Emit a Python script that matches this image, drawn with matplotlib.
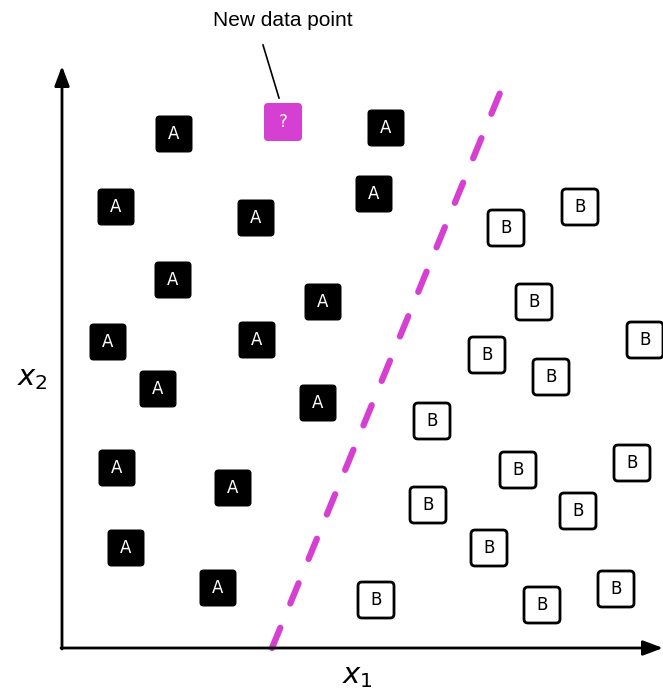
import matplotlib
matplotlib.use("Agg")
import matplotlib.pyplot as plt
from matplotlib.patches import FancyBboxPatch

# Chart-space coordinates (origin at axes crossing, units ~ pixels)
a_x = [112, 324, 54, 194, 312, 111, 261, 46, 195, 96, 256, 55, 171, 64, 156]
a_y = [514, 520, 441, 430, 454, 368, 346, 306, 308, 259, 245, 180, 160, 100, 60]
b_x = [444, 518, 472, 425, 489, 583, 370, 456, 570, 366, 516, 427, 314, 480, 554]
b_y = [420, 441, 346, 293, 271, 308, 227, 178, 185, 143, 137, 100, 48, 43, 59]
new_x = [221]
new_y = [526]
boundary_x = [210, 440]
boundary_y = [0, 560]

magenta = "#d640d2"

fig = plt.figure(figsize=(6.63, 6.92), dpi=100)
ax = fig.add_axes([0, 0, 1, 1])
ax.set_xlim(-62, 601)
ax.set_ylim(-44, 648)
ax.set_aspect("auto")
ax.axis("off")

def box(x, y, face, edge, label, tcolor, size=36, lw=0):
    p = FancyBboxPatch((x - size / 2, y - size / 2), size, size,
                       boxstyle="round,pad=0,rounding_size=4",
                       facecolor=face, edgecolor=edge, linewidth=lw, zorder=3)
    ax.add_patch(p)
    ax.text(x, y, label, color=tcolor, ha="center", va="center",
            fontsize=12, fontfamily="DejaVu Sans", zorder=4)

for x, y in zip(a_x, a_y):
    box(x, y, "black", "black", "A", "white", size=37, lw=0)
for x, y in zip(b_x, b_y):
    box(x, y, "white", "black", "B", "black", size=36, lw=2)
for x, y in zip(new_x, new_y):
    box(x, y, magenta, magenta, "?", "white", size=38, lw=0)

# decision boundary
ax.plot(boundary_x, boundary_y, color=magenta, lw=4.5, ls=(0, (3.5, 4.2)),
        dash_capstyle="round", zorder=2)

# axes arrows
ax.annotate("", xy=(601, 0), xytext=(-1, 0),
            arrowprops=dict(arrowstyle="-|>,head_length=1.2,head_width=0.45",
                            color="black", lw=2, shrinkA=0, shrinkB=0))
ax.annotate("", xy=(0, 582), xytext=(0, -1),
            arrowprops=dict(arrowstyle="-|>,head_length=1.2,head_width=0.45",
                            color="black", lw=2, shrinkA=0, shrinkB=0))

# axis labels
ax.text(295, -28, r"$x_1$", fontsize=21, ha="center", va="center")
ax.text(-30, 270, r"$x_2$", fontsize=21, ha="center", va="center")

# annotation
ax.plot([201, 217], [603, 550], color="black", lw=1.2)
ax.text(221, 627, "New data point", fontsize=15, fontfamily="Liberation Sans",
        ha="center", va="center")

fig.savefig("out.png", dpi=100)
